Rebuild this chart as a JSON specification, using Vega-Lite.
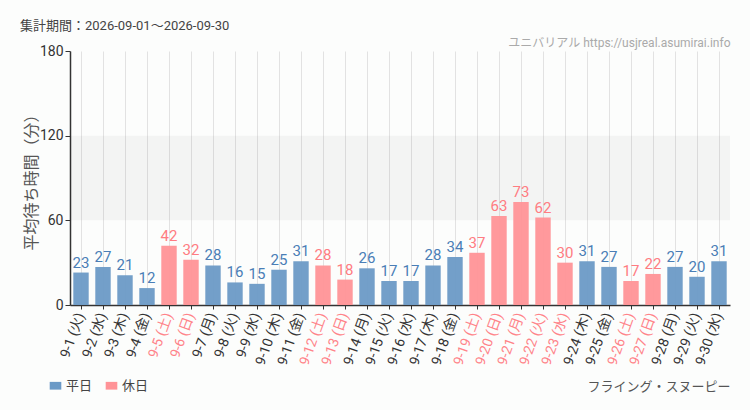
{
  "$schema": "https://vega.github.io/schema/vega-lite/v6.json",
  "width": 660,
  "height": 254,
  "autosize": {"type": "none"},
  "padding": {"left": 70, "top": 51, "right": 20, "bottom": 105},
  "background": "#fcfdfc",
  "title": {
    "text": "集計期間：2026-09-01～2026-09-30",
    "anchor": "start",
    "frame": "group",
    "dx": -50,
    "offset": 3,
    "fontSize": 13,
    "fontWeight": "normal",
    "color": "#444444",
    "font": "Roboto, Noto Sans CJK JP"
  },
  "config": {
    "view": {"stroke": null},
    "font": "Roboto, Noto Sans CJK JP",
    "axis": {"labelFont": "Roboto, Noto Sans CJK JP", "titleFont": "Noto Sans CJK JP"}
  },
  "data": {
    "values": [
      {"day": "9-1 (火)", "value": 23, "type": "平日"},
      {"day": "9-2 (水)", "value": 27, "type": "平日"},
      {"day": "9-3 (木)", "value": 21, "type": "平日"},
      {"day": "9-4 (金)", "value": 12, "type": "平日"},
      {"day": "9-5 (土)", "value": 42, "type": "休日"},
      {"day": "9-6 (日)", "value": 32, "type": "休日"},
      {"day": "9-7 (月)", "value": 28, "type": "平日"},
      {"day": "9-8 (火)", "value": 16, "type": "平日"},
      {"day": "9-9 (水)", "value": 15, "type": "平日"},
      {"day": "9-10 (木)", "value": 25, "type": "平日"},
      {"day": "9-11 (金)", "value": 31, "type": "平日"},
      {"day": "9-12 (土)", "value": 28, "type": "休日"},
      {"day": "9-13 (日)", "value": 18, "type": "休日"},
      {"day": "9-14 (月)", "value": 26, "type": "平日"},
      {"day": "9-15 (火)", "value": 17, "type": "平日"},
      {"day": "9-16 (水)", "value": 17, "type": "平日"},
      {"day": "9-17 (木)", "value": 28, "type": "平日"},
      {"day": "9-18 (金)", "value": 34, "type": "平日"},
      {"day": "9-19 (土)", "value": 37, "type": "休日"},
      {"day": "9-20 (日)", "value": 63, "type": "休日"},
      {"day": "9-21 (月)", "value": 73, "type": "休日"},
      {"day": "9-22 (火)", "value": 62, "type": "休日"},
      {"day": "9-23 (水)", "value": 30, "type": "休日"},
      {"day": "9-24 (木)", "value": 31, "type": "平日"},
      {"day": "9-25 (金)", "value": 27, "type": "平日"},
      {"day": "9-26 (土)", "value": 17, "type": "休日"},
      {"day": "9-27 (日)", "value": 22, "type": "休日"},
      {"day": "9-28 (月)", "value": 27, "type": "平日"},
      {"day": "9-29 (火)", "value": 20, "type": "平日"},
      {"day": "9-30 (水)", "value": 31, "type": "平日"}
    ]
  },
  "resolve": {"axis": {"x": "independent", "y": "independent"}},
  "layer": [
    {
      "data": {"values": [{"lo": 60, "hi": 120}]},
      "mark": {"type": "rect", "color": "#000000", "opacity": 0.035},
      "encoding": {
        "y": {"field": "lo", "type": "quantitative", "scale": {"domain": [0, 180], "nice": false}, "axis": null},
        "y2": {"field": "hi"}
      }
    },
    {
      "mark": {"type": "bar", "opacity": 0.95},
      "encoding": {
        "x": {
          "field": "day",
          "type": "nominal",
          "sort": null,
          "scale": {"paddingInner": 0.3, "paddingOuter": 0.15},
          "axis": {
            "title": "フライング・スヌーピー",
            "titleX": 660,
            "titleY": 81,
            "titleAlign": "right",
            "titleBaseline": "middle",
            "titleFontSize": 13,
            "titleFontWeight": "normal",
            "titleColor": "#555555",
            "labelAngle": -70,
            "labelFontSize": 14,
            "labelPadding": 4,
            "labelColor": {
              "condition": {
                "test": "indexof(['9-5 (土)','9-6 (日)','9-12 (土)','9-13 (日)','9-19 (土)','9-20 (日)','9-21 (月)','9-22 (火)','9-23 (水)','9-26 (土)','9-27 (日)'], datum.value) >= 0",
                "value": "#ff8389"
              },
              "value": "#333333"
            },
            "domain": true,
            "domainColor": "#333333",
            "domainWidth": 1.5,
            "tickColor": "#333333",
            "tickSize": 4,
            "grid": true,
            "gridColor": "#e2e2e2"
          }
        },
        "y": {
          "field": "value",
          "type": "quantitative",
          "scale": {"domain": [0, 180], "nice": false},
          "axis": {
            "title": "平均待ち時間（分）",
            "titleFontSize": 16,
            "titleFontWeight": "normal",
            "titleColor": "#555555",
            "titlePadding": 0,
            "values": [0, 60, 120, 180],
            "labelFontSize": 14,
            "labelColor": "#333333",
            "domainColor": "#333333",
            "domainWidth": 1.5,
            "tickColor": "#333333",
            "tickSize": 5,
            "gridColor": "#e2e2e2"
          }
        },
        "color": {
          "field": "type",
          "type": "nominal",
          "scale": {"domain": ["平日", "休日"], "range": ["#6b9ac6", "#ff9397"]},
          "legend": {
            "orient": "none",
            "legendX": -21,
            "legendY": 328,
            "direction": "horizontal",
            "title": null,
            "symbolType": "M-1.5,-1H1.5V1H-1.5Z",
            "symbolSize": 60,
            "symbolOpacity": 1,
            "labelFontSize": 13,
            "labelColor": "#444444",
            "labelFont": "Noto Sans CJK JP",
            "columnPadding": 12
          }
        }
      }
    },
    {
      "mark": {"type": "text", "baseline": "bottom", "dy": -2, "fontSize": 15, "font": "Roboto"},
      "encoding": {
        "x": {
          "field": "day",
          "type": "nominal",
          "sort": null,
          "axis": {
            "orient": "top",
            "title": "ユニバリアル  https://usjreal.asumirai.info",
            "titleX": 660,
            "titleY": -5,
            "titleAlign": "right",
            "titleBaseline": "alphabetic",
            "titleFontSize": 12,
            "titleFontWeight": "normal",
            "titleColor": "#aaaaaa",
            "titleFont": "Roboto, Noto Sans CJK JP",
            "labels": false,
            "ticks": false,
            "domain": false,
            "grid": false
          }
        },
        "y": {"field": "value", "type": "quantitative", "scale": {"domain": [0, 180], "nice": false}, "axis": null},
        "text": {"field": "value"},
        "color": {
          "condition": {"test": "datum.type === '休日'", "value": "#ff7c82"},
          "value": "#4a7eb6"
        }
      }
    }
  ]
}
